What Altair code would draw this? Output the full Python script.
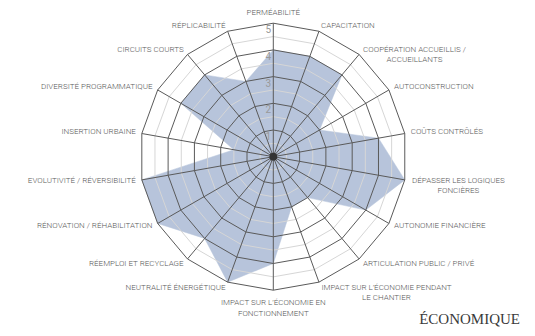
import math
import altair as alt
import pandas as pd

# ---------------- data ----------------
axis_labels = [
    ["PERMÉABILITÉ"],
    ["CAPACITATION"],
    ["COOPÉRATION ACCUEILLIS /", "ACCUEILLANTS"],
    ["AUTOCONSTRUCTION"],
    ["COÛTS CONTRÔLÉS"],
    ["DÉPASSER LES LOGIQUES", "FONCIÈRES"],
    ["AUTONOMIE FINANCIÈRE"],
    ["ARTICULATION PUBLIC / PRIVÉ"],
    ["IMPACT SUR L’ÉCONOMIE PENDANT", "LE CHANTIER"],
    ["IMPACT SUR L’ÉCONOMIE EN", "FONCTIONNEMENT"],
    ["NEUTRALITÉ ÉNERGÉTIQUE"],
    ["RÉEMPLOI ET RECYCLAGE"],
    ["RÉNOVATION / RÉHABILITATION"],
    ["EVOLUTIVITÉ / RÉVERSIBILITÉ"],
    ["INSERTION URBAINE"],
    ["DIVERSITÉ PROGRAMMATIQUE"],
    ["CIRCUITS COURTS"],
    ["RÉPLICABILITÉ"],
]
scores = [4, 4, 4, 2, 4, 5, 4, 2, 2, 4, 5, 4, 5, 5, 1.5, 4, 4, 3]
ring_levels = [1, 2, 3, 4, 5]
half_levels = [0.5, 1.5, 2.5, 3.5, 4.5]
level_ticks = ["1", "2", "3", "4", "5"]
title_text = "ÉCONOMIQUE"

# ---------------- layout ----------------
N = len(axis_labels)
STEP = 360.0 / N
W, H = 519, 320
CX, CY = 265.3, 148.7     # centre in plot pixels
K = 26.7                  # pixels per unit
RMAX = max(ring_levels)
xdom = [-CX / K, (W - CX) / K]
ydom = [-(H - CY) / K, CY / K]

LABEL_FONT = "Roboto"
LABEL_COLOR = "#5a5a5a"
GRID_DARK = "#5a5a5a"
GRID_LIGHT = "#d6d6d6"
FILL = "#b7c4db"


def pol(r, i):
    a = math.radians(i * STEP)
    return r * math.sin(a), r * math.cos(a)


def X(field="x"):
    return alt.X(f"{field}:Q", scale=alt.Scale(domain=xdom, nice=False, zero=False), axis=None)


def Y(field="y"):
    return alt.Y(f"{field}:Q", scale=alt.Scale(domain=ydom, nice=False, zero=False), axis=None)


CHAR_W = {"I": 0.27, " ": 0.25, "/": 0.41, "’": 0.2, "M": 0.87, "W": 0.87, "L": 0.54}


def text_width(s, size=8):
    return sum(CHAR_W.get(c, 0.63) for c in s) * size


# filled polygon
fill_rows = []
for j in range(N + 1):
    i = j % N
    x, y = pol(scores[i], i)
    fill_rows.append({"x": x, "y": y, "o": j})
fill = alt.Chart(pd.DataFrame(fill_rows)).mark_line(
    fill=FILL, stroke=FILL, strokeWidth=0.5
).encode(x=X(), y=Y(), order="o:Q")


def ring_df(levels):
    rows = []
    for lv in levels:
        for j in range(N + 1):
            x, y = pol(lv, j % N)
            rows.append({"lv": lv, "o": j, "x": x, "y": y})
    return pd.DataFrame(rows)


light = alt.Chart(ring_df(half_levels)).mark_line(
    stroke=GRID_LIGHT, strokeWidth=1
).encode(x=X(), y=Y(), order="o:Q", detail="lv:N")

dark = alt.Chart(ring_df(ring_levels)).mark_line(
    stroke=GRID_DARK, strokeWidth=1
).encode(x=X(), y=Y(), order="o:Q", detail="lv:N")

spoke_rows = []
for i in range(N):
    x2, y2 = pol(RMAX, i)
    spoke_rows.append({"x": 0.0, "y": 0.0, "x2": x2, "y2": y2})
spokes = alt.Chart(pd.DataFrame(spoke_rows)).mark_rule(
    stroke=GRID_DARK, strokeWidth=1
).encode(x=X(), y=Y(), x2="x2:Q", y2="y2:Q")

centre = alt.Chart(pd.DataFrame([{"x": 0.0, "y": 0.0}])).mark_circle(
    size=60, color="#333333", opacity=1
).encode(x=X(), y=Y())

tick_df = pd.DataFrame(
    [{"x": -5 / K, "y": lv - 7 / K, "t": t} for lv, t in zip(ring_levels, level_ticks)]
)
ticks = alt.Chart(tick_df).mark_text(
    font=LABEL_FONT, fontSize=10, color="#999999", align="center", baseline="middle"
).encode(x=X(), y=Y(), text="t:N")

# axis labels
RL = RMAX + 6 / K
groups = {"top": [], "bottom": [], "left": [], "right": [], "right2": []}
for i, lines in enumerate(axis_labels):
    x, y = pol(RL, i)
    ang = i * STEP
    txt = "\n".join(lines)
    if ang == 0:
        groups["top"].append({"x": x, "y": y, "t": txt})
    elif ang == 180:
        groups["bottom"].append({"x": x, "y": y, "t": txt})
    elif ang < 180:
        if len(lines) > 1:
            w = text_width(lines[0])
            groups["right2"].append({"x": x + w / 2 / K, "y": y, "t": txt})
        else:
            groups["right"].append({"x": x, "y": y, "t": txt})
    else:
        groups["left"].append({"x": x, "y": y, "t": txt})

label_style = dict(font=LABEL_FONT, fontSize=8, fontWeight=300, color=LABEL_COLOR,
                   lineBreak="\n", lineHeight=10.5)
label_layers = []
specs = {
    "top": dict(align="center", baseline="middle", dy=-4),
    "bottom": dict(align="center", baseline="top", dy=3),
    "left": dict(align="right", baseline="middle"),
    "right": dict(align="left", baseline="middle"),
    "right2": dict(align="center", baseline="middle"),
}
for g, rows in groups.items():
    if not rows:
        continue
    label_layers.append(
        alt.Chart(pd.DataFrame(rows)).mark_text(**label_style, **specs[g]).encode(
            x=X(), y=Y(), text="t:N"
        )
    )

title = alt.Chart(pd.DataFrame([{"t": title_text}])).mark_text(
    font="Liberation Serif", fontSize=15, color="#3a3a3a", align="right", baseline="alphabetic"
).encode(x=alt.value(512), y=alt.value(316), text="t:N")

chart = alt.layer(fill, light, dark, spokes, centre, ticks, *label_layers, title).properties(
    width=W, height=H, padding=0, autosize="none", background="white"
).configure_view(strokeWidth=0)

chart.save("out.html", embed_options={"renderer": "svg", "actions": False})
